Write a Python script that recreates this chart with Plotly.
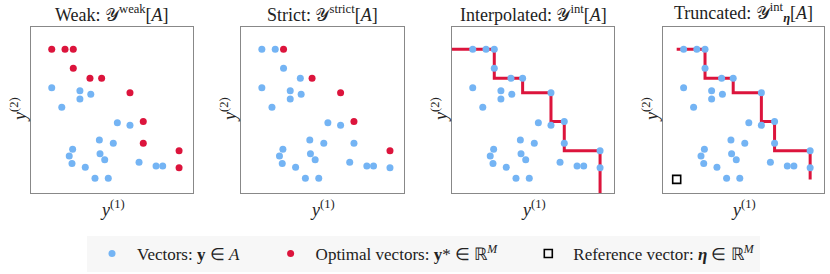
import plotly.graph_objects as go

# ---- data (arbitrary 0-10 units) ----
dom_x = [1.28, 1.90, 3.02, 3.02, 3.69, 5.33, 6.11, 4.22, 5.08, 2.57,
         2.36, 4.26, 4.55, 2.53, 3.35, 3.95, 4.77, 6.67, 7.72, 8.13]
dom_y = [6.34, 5.16, 6.16, 5.66, 5.95, 4.23, 4.08, 3.19, 2.99, 2.63,
         2.23, 2.37, 2.01, 1.77, 1.55, 0.89, 0.89, 1.85, 1.63, 1.63]
weak_x = [1.28, 2.10, 2.61, 3.64, 6.93, 9.14]
weak_y = [8.66, 8.66, 7.51, 6.91, 2.99, 1.52]
strict_x = [2.61, 4.36, 6.11, 6.93, 9.14]
strict_y = [8.66, 6.91, 6.04, 4.30, 2.55]
eta_x = [0.85]
eta_y = [0.82]

titles = [
    "Weak: 𝒴<sup>weak</sup>[<i>A</i>]",
    "Strict: 𝒴<sup>strict</sup>[<i>A</i>]",
    "Interpolated: 𝒴<sup>int</sup>[<i>A</i>]",
    "Truncated: 𝒴<sup>int</sup><sub><b><i>η</i></b></sub>[<i>A</i>]",
]
legend_names = [
    "Vectors: <b>y</b> ∈ <i>A</i>",
    "Optimal vectors: <b>y</b>* ∈ ℝ<sup><i>M</i></sup>",
    "Reference vector: <b><i>η</i></b> ∈ ℝ<sup><i>M</i></sup>",
]

BLUE = "#74B4F4"
RED = "#DC143C"
FONT = "Liberation Serif"
TXT = "#222"
W, H = 830, 274
AX_MIN, AX_MAX = 0, 10

# panel pixel boxes
px_left = [31, 241, 452, 663]
px_right = [193, 404, 614, 824]
py_top, py_bot = 27, 193


def stair(xs, ys, left, bottom):
    px, py = [left], [ys[0]]
    for i in range(len(xs)):
        px.append(xs[i]); py.append(ys[i])
        nxt = ys[i + 1] if i + 1 < len(ys) else bottom
        px.append(xs[i]); py.append(nxt)
    return px, py


fig = go.Figure()
allblue_x = dom_x + weak_x + strict_x
allblue_y = dom_y + weak_y + strict_y


def ax(i):
    return ("x" if i == 0 else f"x{i+1}"), ("y" if i == 0 else f"y{i+1}")


PAD = "\u00a0" * 5
mk = dict(size=7, line=dict(width=0))
# panel 1
xa, ya = ax(0)
fig.add_trace(go.Scatter(x=dom_x, y=dom_y, mode="markers", xaxis=xa, yaxis=ya,
                         marker=dict(color=BLUE, **mk), name=legend_names[0] + PAD,
                         showlegend=True))
fig.add_trace(go.Scatter(x=weak_x + strict_x, y=weak_y + strict_y, mode="markers",
                         xaxis=xa, yaxis=ya, marker=dict(color=RED, **mk),
                         name=legend_names[1] + PAD, showlegend=True))
# panel 2
xa, ya = ax(1)
fig.add_trace(go.Scatter(x=dom_x + weak_x, y=dom_y + weak_y, mode="markers", xaxis=xa, yaxis=ya,
                         marker=dict(color=BLUE, **mk), showlegend=False))
fig.add_trace(go.Scatter(x=strict_x, y=strict_y, mode="markers", xaxis=xa, yaxis=ya,
                         marker=dict(color=RED, **mk), showlegend=False))
# panel 3
xa, ya = ax(2)
sx, sy = stair(strict_x, strict_y, AX_MIN - 1, AX_MIN - 1)
fig.add_trace(go.Scatter(x=sx, y=sy, mode="lines", xaxis=xa, yaxis=ya,
                         line=dict(color=RED, width=3), showlegend=False))
fig.add_trace(go.Scatter(x=allblue_x, y=allblue_y, mode="markers", xaxis=xa, yaxis=ya,
                         marker=dict(color=BLUE, **mk), showlegend=False))
# panel 4
xa, ya = ax(3)
sx, sy = stair(strict_x, strict_y, eta_x[0], eta_y[0])
fig.add_trace(go.Scatter(x=sx, y=sy, mode="lines", xaxis=xa, yaxis=ya,
                         line=dict(color=RED, width=3), showlegend=False))
fig.add_trace(go.Scatter(x=allblue_x, y=allblue_y, mode="markers", xaxis=xa, yaxis=ya,
                         marker=dict(color=BLUE, **mk), showlegend=False))
fig.add_trace(go.Scatter(x=eta_x, y=eta_y, mode="markers", xaxis=xa, yaxis=ya,
                         marker=dict(symbol="square-open", size=8, color="black",
                                     line=dict(width=1.6, color="black")),
                         name=legend_names[2], showlegend=True))

layout = dict(
    width=W, height=H, margin=dict(l=0, r=0, t=0, b=0),
    paper_bgcolor="white", plot_bgcolor="white",
    font=dict(family=FONT, size=15, color=TXT),
    showlegend=True,
    legend=dict(orientation="h", x=87 / W, xanchor="left", y=1 - 236 / H, yanchor="top",
                bgcolor="#f7f7f7", borderwidth=0, itemwidth=40,
                font=dict(family=FONT, size=17, color=TXT)),
)
annotations = []
for i in range(4):
    axis_common = dict(range=[AX_MIN, AX_MAX], showline=True, mirror=True, linecolor="#888",
                       linewidth=1, showticklabels=False, ticks="", showgrid=False,
                       zeroline=False, fixedrange=True)
    sfx = "" if i == 0 else str(i + 1)
    layout["xaxis" + sfx] = dict(domain=[px_left[i] / W, px_right[i] / W],
                                 anchor="y" + sfx, **axis_common)
    layout["yaxis" + sfx] = dict(domain=[1 - py_bot / H, 1 - py_top / H],
                                 anchor="x" + sfx, **axis_common)
    cx = (px_left[i] + px_right[i]) / 2 / W
    annotations.append(dict(text=titles[i], x=cx, y=1 - py_top / H, xref="paper", yref="paper",
                            xanchor="center", yanchor="bottom", showarrow=False,
                            font=dict(size=18, family=FONT, color=TXT), yshift=0))
    annotations.append(dict(text="<i>y</i><sup>(1)</sup>", x=cx, y=1 - py_bot / H,
                            xref="paper", yref="paper", xanchor="center", yanchor="top",
                            showarrow=False, font=dict(size=18, family=FONT, color=TXT),
                            yshift=-2))
    annotations.append(dict(text="<i>y</i><sup>(2)</sup>", x=px_left[i] / W,
                            y=1 - (py_top + py_bot) / 2 / H, xref="paper", yref="paper",
                            xanchor="center", yanchor="middle", textangle=-90, showarrow=False,
                            font=dict(size=18, family=FONT, color=TXT), xshift=-13))
layout["annotations"] = annotations
fig.update_layout(**layout)
fig.write_html("out.html", config={"displayModeBar": False},
               post_script="document.body.style.margin='0';")
